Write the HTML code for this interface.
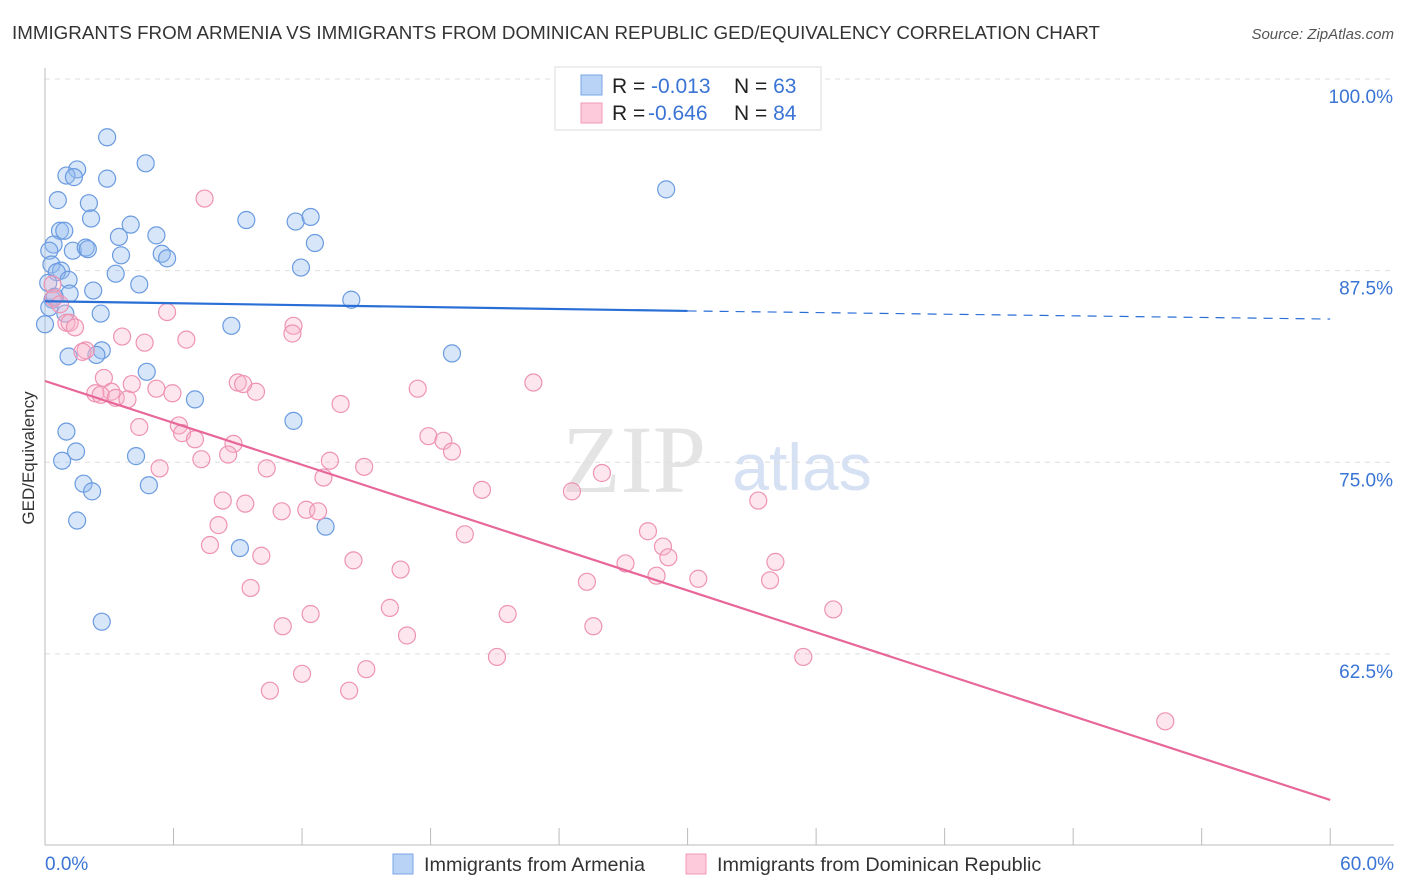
<!DOCTYPE html>
<html><head><meta charset="utf-8"><style>
body{margin:0;background:#fff;font-family:"Liberation Sans",sans-serif;}
svg{display:block}
</style></head><body>
<svg id="chart" width="1406" height="892" xmlns="http://www.w3.org/2000/svg">
<text x="12" y="39" font-size="18" fill="#333" textLength="1088" lengthAdjust="spacingAndGlyphs">IMMIGRANTS FROM ARMENIA VS IMMIGRANTS FROM DOMINICAN REPUBLIC GED/EQUIVALENCY CORRELATION CHART</text>
<text x="1394" y="39" font-size="15" fill="#555" font-style="italic" text-anchor="end">Source: ZipAtlas.com</text>
<text x="634" y="492" font-size="96" fill="#e4e4e4" font-family="Liberation Serif,serif" text-anchor="middle">ZIP</text>
<text x="802" y="490" font-size="66" fill="#d6e2f4" text-anchor="middle">atlas</text>
<g id="grid"></g>
<g id="axes"></g>
<g id="points"></g>
<g id="lines"></g>
<text transform="translate(34,458) rotate(-90)" font-size="17" fill="#333" text-anchor="middle">GED/Equivalency</text>
<g>
<rect x="555" y="67" width="266" height="63" fill="#fff" stroke="#ddd"/>
<rect x="581" y="75" width="21" height="20" fill="#b8d3f5" stroke="#7aa6e6"/>
<rect x="581" y="103" width="21" height="20" fill="#fccadb" stroke="#f09ab8"/>
<text x="612" y="93" font-size="21" fill="#222">R = <tspan x="651" fill="#3a74d4">-0.013</tspan><tspan x="734">N = </tspan><tspan fill="#3a74d4">63</tspan></text>
<text x="612" y="120" font-size="21" fill="#222">R = <tspan x="648" fill="#3a74d4">-0.646</tspan><tspan x="734">N = </tspan><tspan fill="#3a74d4">84</tspan></text>
</g>
<g>
<rect x="393" y="854" width="20" height="20" fill="#b8d3f5" stroke="#7aa6e6"/>
<text x="424" y="871" font-size="19.8" fill="#333">Immigrants from Armenia</text>
<rect x="686" y="854" width="20" height="20" fill="#fccadb" stroke="#f09ab8"/>
<text x="717" y="871" font-size="19.8" fill="#333">Immigrants from Dominican Republic</text>
</g>
</svg>
<script>
const yTicks=[100,87.5,75,62.5];
const yTickLabels=["100.0%","87.5%","75.0%","62.5%"];
const xLabels=["0.0%","60.0%"];
const armeniaX=[2.9,4.7,1.5,1.0,1.35,2.9,0.6,2.05,2.15,4.0,9.4,11.7,12.4,0.7,0.9,3.45,5.2,12.6,0.4,0.2,1.3,1.9,2.0,3.55,5.45,5.7,0.3,0.75,11.95,0.55,3.3,1.1,4.4,2.25,1.15,0.35,14.3,0.2,0.95,2.6,0.0,8.7,2.65,1.1,2.4,19.0,4.75,7.0,1.0,11.6,1.45,4.25,0.8,1.8,4.85,2.2,1.5,9.1,13.1,2.65,29.0,0.15,0.45];
const armeniaY=[96.2,94.5,94.1,93.7,93.6,93.5,92.1,91.9,90.9,90.5,90.8,90.7,91.0,90.1,90.1,89.7,89.8,89.3,89.2,88.8,88.8,89.0,88.9,88.5,88.6,88.3,87.9,87.5,87.7,87.4,87.3,86.9,86.6,86.2,86.0,85.6,85.6,85.1,84.7,84.7,84.0,83.9,82.3,81.9,82.0,82.1,80.9,79.1,77.0,77.7,75.7,75.4,75.1,73.6,73.5,73.1,71.2,69.4,70.8,64.6,92.8,86.7,85.8];
const domX=[7.45,0.35,5.7,0.4,0.7,1.0,1.15,1.4,11.6,11.55,3.6,6.6,4.65,1.9,1.75,9.0,2.75,4.05,5.2,3.1,5.95,2.35,2.6,3.3,3.85,9.85,13.8,17.4,22.8,4.4,6.25,6.4,7.0,8.8,8.55,7.3,5.35,10.35,13.3,14.9,17.9,18.6,19.0,13.0,26.0,20.4,24.6,33.3,8.3,9.35,11.05,12.2,12.75,8.1,7.7,10.1,19.6,28.15,28.85,29.1,14.4,16.6,27.1,28.55,30.5,25.3,34.1,33.85,9.6,16.1,12.4,21.6,36.8,11.1,25.6,16.9,21.1,35.4,15.0,12.0,10.5,14.2,52.3,9.25];
const domY=[92.2,86.6,84.8,85.7,85.3,84.1,84.1,83.8,83.9,83.4,83.2,83.0,82.8,82.3,82.2,80.2,80.5,80.1,79.8,79.6,79.5,79.5,79.4,79.2,79.1,79.6,78.8,79.8,80.2,77.3,77.4,76.9,76.5,76.2,75.5,75.2,74.6,74.6,75.1,74.7,76.7,76.4,75.7,74.0,74.3,73.2,73.1,72.5,72.5,72.3,71.8,71.9,71.8,70.9,69.6,68.9,70.3,70.5,69.5,68.8,68.6,68.0,68.4,67.6,67.4,67.2,68.5,67.3,66.8,65.5,65.1,65.1,65.4,64.3,64.3,63.7,62.3,62.3,61.5,61.2,60.1,60.1,58.1,80.1];
const armeniaTrend=[85.5,84.87,84.34];
const domTrend=[80.3,52.97];

const NS="http://www.w3.org/2000/svg";
const xs=v=>45+v*21.42;
const ys=v=>79+(100-v)*15.33;
function mk(tag,attrs,parent){const e=document.createElementNS(NS,tag);for(const k in attrs)e.setAttribute(k,attrs[k]);document.getElementById(parent).appendChild(e);return e;}

yTicks.forEach((t,i)=>{
  const g=mk('line',{x1:45,x2:1394,y1:ys(t),y2:ys(t),stroke:'#ddd','stroke-dasharray':'5,5'},'grid');
  
  
  const l=mk('text',{x:1393,y:ys(t)+24,'font-size':19,fill:'#3a74d4','text-anchor':'end'},'axes');
  l.textContent=yTickLabels[i];
  
  
});
const ax=mk('line',{x1:45,x2:1394,y1:845,y2:845,stroke:'#bbb'},'axes');


const ay=mk('line',{x1:45,x2:45,y1:68,y2:845,stroke:'#bbb'},'axes');


for(let i=0;i<=10;i++){
  const t=mk('line',{x1:xs(i*6),x2:xs(i*6),y1:828,y2:845,stroke:'#bbb'},'axes');
  
  
}
[[0,'start'],[60,'end']].forEach((p,i)=>{
  const l=mk('text',{x:i?1394:45,y:870,'font-size':19,fill:'#3a74d4','text-anchor':p[1]},'axes');
  l.textContent=xLabels[i];
  
  
});
armeniaX.forEach((x,i)=>{
  const c=mk('circle',{cx:xs(x),cy:ys(armeniaY[i]),r:8.5,fill:'rgba(150,190,240,0.38)',stroke:'#6b9be0','stroke-width':1.2},'points');
  
  
});
domX.forEach((x,i)=>{
  const c=mk('circle',{cx:xs(x),cy:ys(domY[i]),r:8.5,fill:'rgba(248,180,200,0.33)',stroke:'#ee93b3','stroke-width':1.2},'points');
  
  
});
const b1=mk('line',{x1:xs(0),y1:ys(armeniaTrend[0]),x2:xs(30),y2:ys(armeniaTrend[1]),stroke:'#2a6fd6','stroke-width':2.2},'lines');


const b2=mk('line',{x1:xs(30),y1:ys(armeniaTrend[1]),x2:xs(60),y2:ys(armeniaTrend[2]),stroke:'#2a6fd6','stroke-width':1.2,'stroke-dasharray':'9,7'},'lines');


const p1=mk('line',{x1:xs(0),y1:ys(domTrend[0]),x2:xs(60),y2:ys(domTrend[1]),stroke:'#e8679a','stroke-width':2.2},'lines');


</script>
</body></html>
